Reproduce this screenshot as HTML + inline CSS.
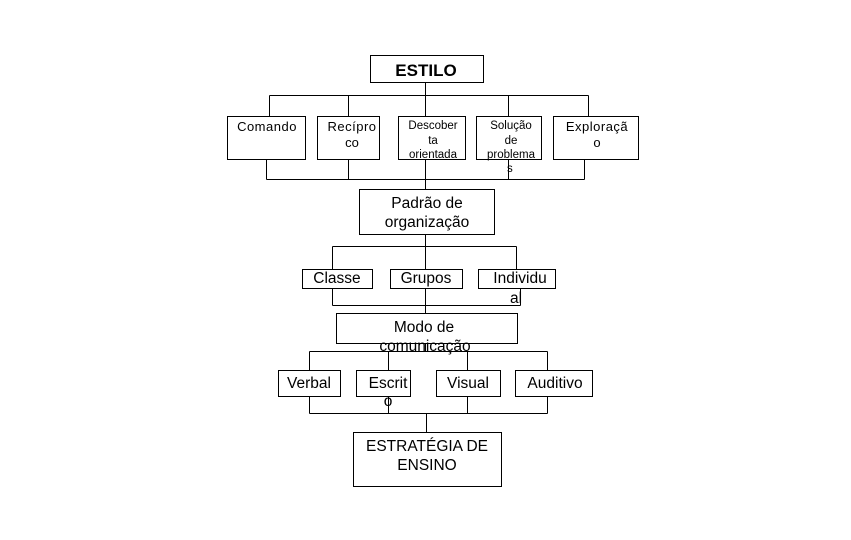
<!DOCTYPE html>
<html><head><meta charset="utf-8"><style>
html,body{margin:0;padding:0;background:#fff}
svg{display:block}
text{font-family:"Liberation Sans",Arial,sans-serif;fill:#000}
</style></head><body>
<svg width="851" height="540" viewBox="0 0 851 540" xmlns="http://www.w3.org/2000/svg">
<g fill="none" stroke="#000" stroke-width="1">
<!-- top -->
<rect x="370.5" y="55.5" width="113" height="27"/>
<path d="M425.5 82.5V95.5M269.5 95.5H588.5M269.5 95.5V116M348.5 95.5V116M425.5 95.5V116M508.5 95.5V116M588.5 95.5V116"/>
<rect x="227.5" y="116.5" width="78" height="43"/>
<rect x="317.5" y="116.5" width="62" height="43"/>
<rect x="398.5" y="116.5" width="67" height="43"/>
<rect x="476.5" y="116.5" width="65" height="43"/>
<rect x="553.5" y="116.5" width="85" height="43"/>
<path d="M266.5 159.5V179.5M348.5 159.5V179.5M425.5 159.5V179.5M508.5 159.5V179.5M584.5 159.5V179.5M266.5 179.5H584.5M425.5 179.5V189"/>
<rect x="359.5" y="189.5" width="135" height="45"/>
<path d="M425.5 234.5V246.5M332.5 246.5H516.5M332.5 246.5V269M425.5 246.5V269M516.5 246.5V269"/>
<rect x="302.5" y="269.5" width="70" height="19"/>
<rect x="390.5" y="269.5" width="72" height="19"/>
<rect x="478.5" y="269.5" width="77" height="19"/>
<path d="M332.5 288.5V305.5M425.5 288.5V305.5M520.5 288.5V305.5M332.5 305.5H520.5M425.5 305.5V313"/>
<rect x="336.5" y="313.5" width="181" height="30"/>
<path d="M425.5 343.5V351.5M309.5 351.5H547.5M309.5 351.5V370M388.5 351.5V370M467.5 351.5V370M547.5 351.5V370"/>
<rect x="278.5" y="370.5" width="62" height="26"/>
<rect x="356.5" y="370.5" width="54" height="26"/>
<rect x="436.5" y="370.5" width="64" height="26"/>
<rect x="515.5" y="370.5" width="77" height="26"/>
<path d="M309.5 396.5V413.5M388.5 396.5V413.5M467.5 396.5V413.5M547.5 396.5V413.5M309.5 413.5H547.5M426.5 413.5V432"/>
<rect x="353.5" y="432.5" width="148" height="54"/>
</g>
<g text-anchor="middle">
<text x="426" y="76" font-size="17" font-weight="bold">ESTILO</text>
<text x="267" y="131" font-size="13" letter-spacing="0.5">Comando</text>
<text x="352" y="131" font-size="13" letter-spacing="0.5">Recípro</text>
<text x="352" y="147" font-size="13">co</text>
<text x="433" y="129" font-size="11.5">Descober</text>
<text x="433" y="144" font-size="11.5">ta</text>
<text x="433" y="158" font-size="11.5">orientada</text>
<text x="511" y="129" font-size="11.5">Solução</text>
<text x="511" y="144" font-size="11.5">de</text>
<text x="511" y="158" font-size="11.5">problema</text>
<text x="511" y="172" font-size="11.5" text-anchor="start" dx="-4">s</text>
<text x="597" y="131" font-size="13" letter-spacing="0.5">Exploraçã</text>
<text x="597" y="147" font-size="13">o</text>
<text x="427" y="208" font-size="15.5">Padrão de</text>
<text x="427" y="227" font-size="15.5">organização</text>
<text x="337" y="283" font-size="15.5">Classe</text>
<text x="426" y="283" font-size="15.5">Grupos</text>
<text x="520" y="283" font-size="15.5">Individu</text>
<text x="516" y="303" font-size="15.5">al</text>
<text x="424" y="332" font-size="15.5">Modo de</text>
<text x="425" y="351" font-size="15.5">comunicação</text>
<text x="309" y="388" font-size="15.5">Verbal</text>
<text x="388" y="388" font-size="15.5">Escrit</text>
<text x="388" y="406" font-size="15.5">o</text>
<text x="468" y="388" font-size="15.5">Visual</text>
<text x="555" y="388" font-size="15.5">Auditivo</text>
<text x="427" y="451" font-size="15.5">ESTRATÉGIA DE</text>
<text x="427" y="470" font-size="15.5">ENSINO</text>
</g>
</svg>
</body></html>
